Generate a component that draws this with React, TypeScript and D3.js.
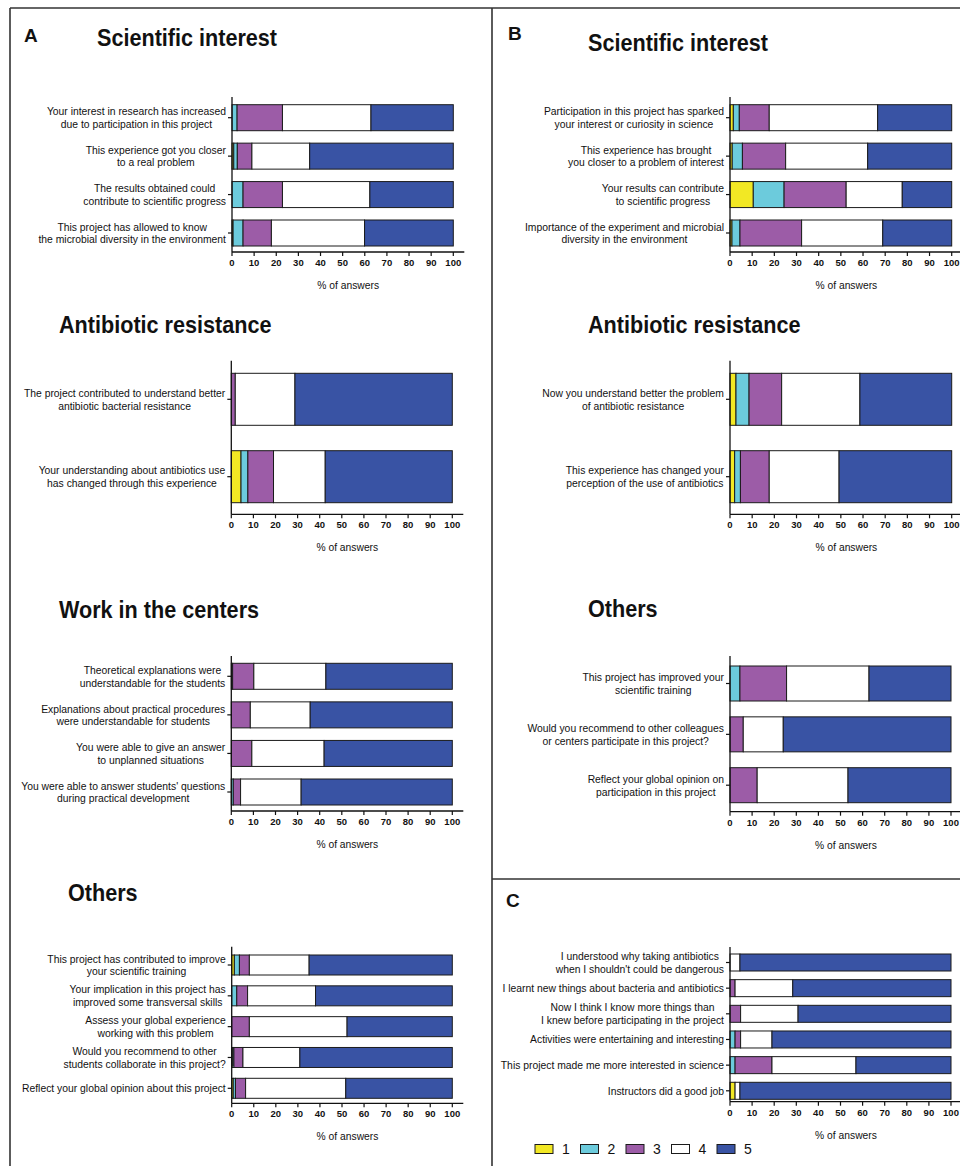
import React from 'react';
import * as d3 from 'd3';

// ---------- data ----------
const seriesKeys = ['1', '2', '3', '4', '5'];
const seriesColors = ['#f2e824', '#6ccbdc', '#9c5ca7', '#ffffff', '#3953a4'];

const aSciLabels = [
  ['Your interest in research has increased', 'due to participation in this project'],
  ['This experience got you closer', 'to a real problem'],
  ['The results obtained could', 'contribute to scientific progress'],
  ['This project has allowed to know', 'the microbial diversity in the environment'],
];
const aSciValues = [
  [0, 2.3, 20.5, 40.0, 37.2],
  [0.8, 1.6, 6.6, 26.1, 64.9],
  [0, 5.0, 17.8, 39.5, 37.7],
  [0.5, 4.5, 12.8, 42.1, 40.1],
];

const aAntiLabels = [
  ['The project contributed to understand better', 'antibiotic bacterial resistance'],
  ['Your understanding about antibiotics use', 'has changed through this experience'],
];
const aAntiValues = [
  [0, 0, 1.8, 27.0, 71.2],
  [4.4, 3.1, 11.6, 23.4, 57.5],
];

const aWorkLabels = [
  ['Theoretical explanations were', 'understandable for the students'],
  ['Explanations about practical procedures', 'were understandable for students'],
  ['You were able to give an answer', 'to unplanned situations'],
  ["You were able to answer students' questions", 'during practical development'],
];
const aWorkValues = [
  [0, 0.6, 9.6, 32.6, 57.2],
  [0, 0, 8.6, 27.1, 64.3],
  [0, 0, 9.3, 32.7, 58.0],
  [0, 0.9, 3.3, 27.4, 68.4],
];

const aOthersLabels = [
  ['This project has contributed to improve', 'your scientific training'],
  ['Your implication in this project has', 'improved some transversal skills'],
  ['Assess your global experience', 'working with this problem'],
  ['Would you recommend to other', 'students collaborate in this project?'],
  ['Reflect your global opinion about this project'],
];
const aOthersValues = [
  [1.2, 2.3, 4.5, 27.1, 64.9],
  [0, 2.3, 4.9, 30.8, 62.0],
  [0, 0, 8.0, 44.3, 47.7],
  [0.5, 0.5, 4.1, 25.8, 69.1],
  [0.7, 1.0, 4.6, 45.4, 48.3],
];

const bSciLabels = [
  ['Participation in this project has sparked', 'your interest or curiosity in science'],
  ['This experience has brought', 'you closer to a problem of interest'],
  ['Your results can contribute', 'to scientific progress'],
  ['Importance of the experiment and microbial', 'diversity in the environment'],
];
const bSciValues = [
  [1.5, 2.7, 13.5, 48.9, 33.4],
  [1.0, 4.6, 19.5, 37.0, 37.9],
  [10.5, 13.9, 28.0, 25.3, 22.3],
  [0.9, 3.6, 27.8, 36.6, 31.1],
];

const bAntiLabels = [
  ['Now you understand better the problem', 'of antibiotic resistance'],
  ['This experience has changed your', 'perception of the use of antibiotics'],
];
const bAntiValues = [
  [2.7, 5.9, 14.7, 35.3, 41.4],
  [2.1, 2.6, 13.0, 31.5, 50.8],
];

const bOthersLabels = [
  ['This project has improved your', 'scientific training'],
  ['Would you recommend to other colleagues', 'or centers participate in this project?'],
  ['Reflect your global opinion on', 'participation in this project'],
];
const bOthersValues = [
  [0, 4.5, 21.1, 37.3, 37.1],
  [0, 0, 6.0, 18.1, 75.9],
  [0, 0, 12.3, 41.1, 46.6],
];

const cLabels = [
  ['I understood why taking antibiotics', "when I shouldn't could be dangerous"],
  ['I learnt new things about bacteria and antibiotics'],
  ['Now I think I know more things than', 'I knew before participating in the project'],
  ['Activities were entertaining and interesting'],
  ['This project made me more interested in science'],
  ['Instructors did a good job'],
];
const cValues = [
  [0, 0, 0, 4.5, 95.5],
  [0, 0, 2.3, 26.1, 71.6],
  [0, 0, 4.8, 26.0, 69.2],
  [0, 2.3, 2.5, 14.2, 81.0],
  [0, 2.3, 16.7, 38.0, 43.0],
  [2.3, 0, 0, 2.2, 95.5],
];

const axisTitle = '% of answers';

// ---------- layout ----------
const FONT = '"Liberation Sans", Arial, Helvetica, sans-serif';
const LABEL_SIZE = 11.5;
const LABEL_K = 0.9;
const LINE_GAP = 12.7;

type Cfg = { x0: number; x100: number; axisTop: number; axisY: number; barTop: number; barBottom: number; bh: number };

const layoutA1: Cfg = { x0: 232, x100: 453.3, axisTop: 97, axisY: 252, barTop: 104.7, barBottom: 246, bh: 26 };
const layoutB1: Cfg = { x0: 730, x100: 951.7, axisTop: 97, axisY: 252, barTop: 104.7, barBottom: 246, bh: 26 };
const layoutA2: Cfg = { x0: 231.3, x100: 452.3, axisTop: 360.7, axisY: 514.3, barTop: 373.3, barBottom: 502.7, bh: 52 };
const layoutB2: Cfg = { x0: 730, x100: 951.7, axisTop: 360.7, axisY: 514.3, barTop: 373.3, barBottom: 502.7, bh: 52 };
const layoutA3: Cfg = { x0: 231.3, x100: 452.3, axisTop: 656, axisY: 811, barTop: 663.3, barBottom: 805, bh: 26 };
const layoutB3: Cfg = { x0: 730, x100: 951, axisTop: 656, axisY: 811.7, barTop: 666, barBottom: 802.7, bh: 35 };
const layoutA4: Cfg = { x0: 231.7, x100: 452.3, axisTop: 946.7, axisY: 1103.3, barTop: 955, barBottom: 1098.3, bh: 20 };
const layoutC: Cfg = { x0: 730, x100: 951, axisTop: 947, axisY: 1101.7, barTop: 954, barBottom: 1099.3, bh: 17 };

let measureCtx: CanvasRenderingContext2D | null = null;
function measure(text: string, size: number, weight: string = 'normal') {
  if (!measureCtx) measureCtx = document.createElement('canvas').getContext('2d');
  if (!measureCtx) return text.length * size * 0.5;
  measureCtx.font = `${weight} ${size}px ${FONT}`;
  return measureCtx.measureText(text).width;
}

function CText(props: { x: number; y: number; text: string; size: number; weight?: string; k?: number; anchor?: string }) {
  const { x, y, text, size, weight = 'normal', k = 1, anchor = 'start' } = props;
  const w = measure(text, size, weight) * k;
  return (
    <text x={x} y={y} fontSize={size} fontWeight={weight} textAnchor={anchor as any}
      textLength={w} lengthAdjust="spacingAndGlyphs" fill="#111">{text}</text>
  );
}

function Panel({ labels, values, cfg }: { labels: string[][]; values: number[][]; cfg: Cfg }) {
  const x = d3.scaleLinear().domain([0, 100]).range([cfg.x0, cfg.x100]);
  const n = labels.length;
  const step = (cfg.barBottom - cfg.barTop - cfg.bh) / (n - 1);
  const pad = 1 - cfg.bh / step;
  const y = d3.scaleBand<number>().domain(d3.range(n)).range([cfg.barTop, cfg.barBottom]).paddingInner(pad).paddingOuter(0);
  const rows = values.map(v => Object.fromEntries(seriesKeys.map((k, i) => [k, v[i]])));
  const stacked = d3.stack<any>().keys(seriesKeys)(rows);
  const axisEnd = cfg.x100 + 11;
  const ticks = x.ticks(10);
  return (
    <g>
      {stacked.map((s, i) => (
        <g key={i}>
          {s.map((d, j) => {
            const w = x(d[1]) - x(d[0]);
            if (w <= 0.05) return null;
            return (
              <rect key={j} x={x(d[0])} y={y(j)!} width={w} height={y.bandwidth()}
                fill={seriesColors[i]} stroke="#1b1b1b" strokeWidth={1} />
            );
          })}
        </g>
      ))}
      {/* y axis */}
      <line x1={cfg.x0} x2={cfg.x0} y1={cfg.axisTop} y2={cfg.axisY} stroke="#111" strokeWidth={1.3} />
      {labels.map((lines, j) => {
        const cy = y(j)! + y.bandwidth() / 2;
        const widths = lines.map(l => measure(l, LABEL_SIZE) * LABEL_K);
        const blockW = Math.max(...widths);
        const cx = cfg.x0 - 6 - blockW / 2;
        const first = cy - ((lines.length - 1) * LINE_GAP) / 2 + 4;
        return (
          <g key={j}>
            <line x1={cfg.x0 - 4} x2={cfg.x0} y1={cy} y2={cy} stroke="#111" strokeWidth={1.2} />
            {lines.map((l, li) => (
              <CText key={li} x={cx} y={first + li * LINE_GAP} text={l} size={LABEL_SIZE} k={LABEL_K} anchor="middle" />
            ))}
          </g>
        );
      })}
      {/* x axis */}
      <line x1={cfg.x0} x2={axisEnd} y1={cfg.axisY} y2={cfg.axisY} stroke="#111" strokeWidth={1.3} />
      {ticks.map(t => (
        <g key={t}>
          <line x1={x(t)} x2={x(t)} y1={cfg.axisY} y2={cfg.axisY + 4} stroke="#111" strokeWidth={1.2} />
          <text x={x(t)} y={cfg.axisY + 14} fontSize={9.5} fontWeight="bold" textAnchor="middle" fill="#111">{t}</text>
        </g>
      ))}
      <text x={(cfg.x0 + axisEnd) / 2} y={cfg.axisY + 37} fontSize={10.3} textAnchor="middle" fill="#111">{axisTitle}</text>
    </g>
  );
}

const TITLE_SIZE = 24;
const TITLE_K = 0.9;

export default function App() {
  const legendStep = 45.5;
  return (
    <svg width={960} height={1166} viewBox="0 0 960 1166"
      style={{ position: 'absolute', left: 0, top: 0, display: 'block', background: '#fff', fontFamily: FONT }}>
      <rect x={0} y={0} width={960} height={1166} fill="#fff" />
      {/* frame */}
      <line x1={10} x2={960} y1={8} y2={8} stroke="#333" strokeWidth={1.6} />
      <line x1={10} x2={10} y1={8} y2={1166} stroke="#333" strokeWidth={1.6} />
      <line x1={492} x2={492} y1={8} y2={1166} stroke="#333" strokeWidth={1.6} />
      <line x1={492} x2={960} y1={879} y2={879} stroke="#333" strokeWidth={1.6} />

      {/* panel letters */}
      <text x={24} y={42} fontSize={19} fontWeight="bold" fill="#111">A</text>
      <text x={508} y={40} fontSize={19} fontWeight="bold" fill="#111">B</text>
      <text x={506} y={907} fontSize={19} fontWeight="bold" fill="#111">C</text>

      {/* titles */}
      <CText x={97} y={46} text="Scientific interest" size={TITLE_SIZE} weight="bold" k={TITLE_K} />
      <CText x={588} y={51} text="Scientific interest" size={TITLE_SIZE} weight="bold" k={TITLE_K} />
      <CText x={59} y={333} text="Antibiotic resistance" size={TITLE_SIZE} weight="bold" k={TITLE_K} />
      <CText x={588} y={333} text="Antibiotic resistance" size={TITLE_SIZE} weight="bold" k={TITLE_K} />
      <CText x={59} y={618} text="Work in the centers" size={TITLE_SIZE} weight="bold" k={TITLE_K} />
      <CText x={588} y={617} text="Others" size={TITLE_SIZE} weight="bold" k={TITLE_K} />
      <CText x={68} y={901} text="Others" size={TITLE_SIZE} weight="bold" k={TITLE_K} />

      <Panel labels={aSciLabels} values={aSciValues} cfg={layoutA1} />
      <Panel labels={bSciLabels} values={bSciValues} cfg={layoutB1} />
      <Panel labels={aAntiLabels} values={aAntiValues} cfg={layoutA2} />
      <Panel labels={bAntiLabels} values={bAntiValues} cfg={layoutB2} />
      <Panel labels={aWorkLabels} values={aWorkValues} cfg={layoutA3} />
      <Panel labels={bOthersLabels} values={bOthersValues} cfg={layoutB3} />
      <Panel labels={aOthersLabels} values={aOthersValues} cfg={layoutA4} />
      <Panel labels={cLabels} values={cValues} cfg={layoutC} />

      {/* legend */}
      {seriesKeys.map((k, i) => (
        <g key={k}>
          <rect x={535 + i * legendStep} y={1144.5} width={18} height={9} fill={seriesColors[i]} stroke="#1b1b1b" strokeWidth={1} />
          <text x={562 + i * legendStep} y={1154} fontSize={14} fill="#111">{k}</text>
        </g>
      ))}
    </svg>
  );
}
